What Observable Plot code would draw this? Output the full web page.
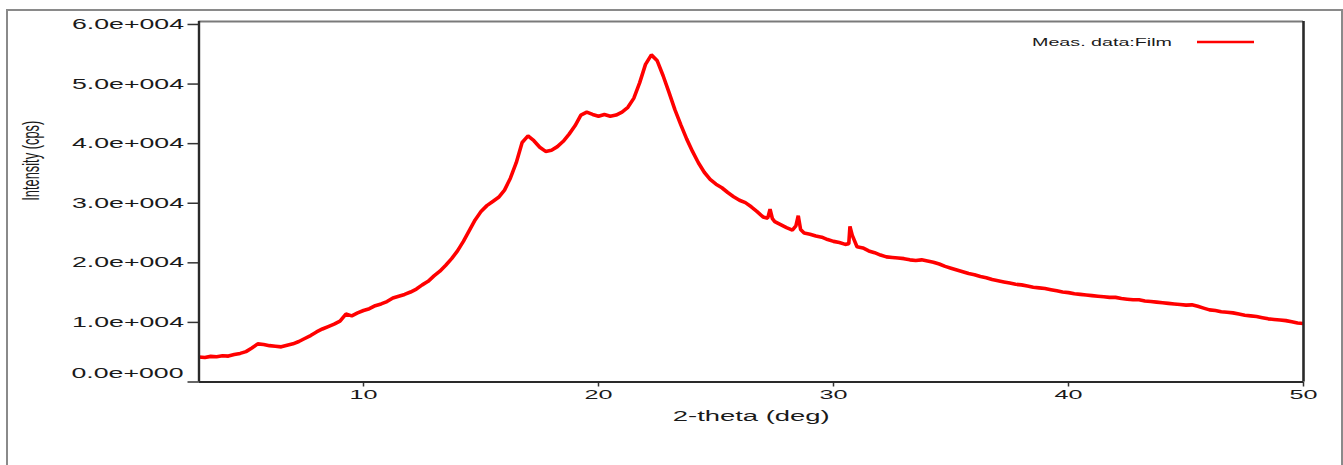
<!DOCTYPE html>
<html>
<head>
<meta charset="utf-8">
<script src="https://cdn.jsdelivr.net/npm/d3@7"></script>
<script src="https://cdn.jsdelivr.net/npm/@observablehq/plot@0.6"></script>
<style>
  html, body { margin: 0; padding: 0; background: #fff; overflow: hidden; }
  #wrap { position: relative; width: 1343px; height: 465px; overflow: hidden; }
  #chart svg { display: block; }
  #outer { position: absolute; left: 6px; top: 9px; width: 1337px; height: 600px; border: 2px solid #8a8a8a; box-sizing: border-box; pointer-events: none; }
  #overlay { position: absolute; left: 0; top: 0; pointer-events: none; }
</style>
</head>
<body>
<div id="wrap">
  <div id="chart"></div>
  <div id="outer"></div>
  <svg id="overlay" width="1343" height="465"></svg>
</div>
<script>
// ---- data ----
const theta = [
  3.00,3.25,3.50,3.75,4.00,4.25,4.50,4.75,5.00,5.25,5.50,5.75,6.00,6.25,6.50,6.75,
  7.00,7.25,7.50,7.75,8.00,8.25,8.50,8.75,9.00,9.25,9.50,9.75,10.00,10.25,10.50,10.75,
  11.00,11.25,11.50,11.75,12.00,12.25,12.50,12.75,13.00,13.25,13.50,13.75,14.00,14.25,14.50,14.75,
  15.00,15.25,15.50,15.75,16.00,16.25,16.50,16.75,17.00,17.25,17.50,17.75,18.00,18.25,18.50,18.75,
  19.00,19.25,19.50,19.75,20.00,20.25,20.50,20.75,21.00,21.25,21.50,21.75,22.00,22.25,22.50,22.75,
  23.00,23.25,23.50,23.75,24.00,24.25,24.50,24.75,25.00,25.25,25.50,25.75,26.00,26.25,26.50,26.75,
  27.00,27.20,27.30,27.40,27.50,27.75,28.00,28.25,28.40,28.50,28.60,28.75,29.00,29.25,29.50,29.75,
  30.00,30.25,30.50,30.65,30.70,30.80,31.00,31.25,31.50,31.75,32.00,32.25,32.50,32.75,33.00,33.25,
  33.50,33.75,34.00,34.25,34.50,34.75,35.00,35.25,35.50,35.75,36.00,36.25,36.50,36.75,37.00,37.25,
  37.50,37.75,38.00,38.25,38.50,38.75,39.00,39.25,39.50,39.75,40.00,40.25,40.50,40.75,41.00,41.25,
  41.50,41.75,42.00,42.25,42.50,42.75,43.00,43.25,43.50,43.75,44.00,44.25,44.50,44.75,45.00,45.25,
  45.50,45.75,46.00,46.25,46.50,46.75,47.00,47.25,47.50,47.75,48.00,48.25,48.50,48.75,49.00,49.25,
  49.50,49.75,50.00
];
const intensity = [
  4200,4100,4300,4250,4400,4350,4600,4800,5100,5700,6400,6300,6100,6000,5900,6150,
  6400,6800,7300,7800,8400,8900,9300,9700,10200,11400,11100,11600,12000,12300,12800,13100,
  13500,14100,14400,14700,15100,15600,16300,16900,17800,18600,19600,20700,22000,23600,25400,27200,
  28600,29600,30300,31000,32200,34200,36800,40200,41300,40500,39400,38700,38900,39500,40400,41600,
  43000,44800,45300,44900,44600,44900,44600,44800,45300,46100,47600,50200,53300,54900,53900,51400,
  48600,45700,43200,40800,38700,36800,35200,34000,33200,32600,31800,31100,30500,30100,29400,28600,
  27700,27500,29000,27400,26900,26400,25900,25500,26200,27900,25600,25000,24800,24500,24300,23900,
  23600,23400,23100,23200,26100,24600,22700,22500,22000,21700,21300,21000,20900,20800,20700,20500,
  20400,20500,20300,20100,19800,19400,19100,18800,18500,18200,18000,17700,17500,17200,17000,16800,
  16600,16400,16300,16100,15900,15800,15700,15500,15300,15100,15000,14800,14700,14600,14500,14400,
  14300,14200,14200,14000,13900,13800,13800,13600,13500,13400,13300,13200,13100,13000,12900,12950,
  12700,12400,12100,12000,11800,11700,11600,11400,11200,11100,11000,10800,10600,10500,10400,10300,
  10100,9900,9800
];
const xDomain = [3, 50];
const yDomain = [0, 60500];
const xTicks = [10, 20, 30, 40, 50];
const yTicks = [0, 10000, 20000, 30000, 40000, 50000, 60000];
const xTitle = "2-theta (deg)";
const yTitle = "Intensity (cps)";
const seriesName = "Meas. data:Film";

const fmtY = d => d === 0 ? "0.0e+000" : (d / 10000).toFixed(1) + "e+004";
const rows = theta.map((t, i) => ({t, v: intensity[i]}));
const FONT = "'Liberation Sans', Arial, sans-serif";

const plot = Plot.plot({
  width: 1343,
  height: 465,
  marginLeft: 198.5,
  marginRight: 40,
  marginTop: 21,
  marginBottom: 83.5,
  style: {fontFamily: FONT, background: "transparent", color: "#1a1a1a"},
  x: {domain: xDomain, axis: null},
  y: {domain: yDomain, axis: null},
  marks: [
    Plot.axisY({ticks: yTicks, tickSize: 11, tickPadding: 4, tickFormat: d => d === 0 ? "" : fmtY(d),
      fontSize: 14, stroke: "#333", strokeWidth: 1.5, fill: "#1a1a1a", label: null}),
    Plot.text([0], {x: xDomain[0], y: d => d, text: fmtY, textAnchor: "end", dx: -15.5, dy: -8.5,
      fontSize: 14, fill: "#1a1a1a"}),
    Plot.axisX({ticks: xTicks, tickSize: 5, tickPadding: 3, tickFormat: d => String(d),
      fontSize: 13, stroke: "#333", strokeWidth: 1.5, fill: "#1a1a1a", label: null}),
    Plot.text([xTitle], {frameAnchor: "bottom", text: d => d, dy: 35, fontSize: 14, fill: "#1a1a1a", lineAnchor: "middle"}),
    Plot.text([yTitle], {frameAnchor: "left", text: d => d, rotate: -90, dx: -168, dy: -1, fontSize: 24, fill: "#1a1a1a", lineAnchor: "middle"}),
    Plot.line(rows, {x: "t", y: "v", stroke: "#ff0000", strokeWidth: 3.6, strokeLinejoin: "miter", clip: true}),
    Plot.ruleY([yDomain[1]], {stroke: "#7a7a7a", strokeWidth: 1.8}),
    Plot.ruleY([0], {stroke: "#2a2a2a", strokeWidth: 2}),
    Plot.ruleX([xDomain[0]], {stroke: "#2a2a2a", strokeWidth: 2.4}),
    Plot.ruleX([xDomain[1]], {stroke: "#2a2a2a", strokeWidth: 2.6})
  ]
});
document.getElementById("chart").appendChild(plot);

// the reference's lettering is horizontally stretched: reproduce with textLength
const xTickStrings = xTicks.map(String);
plot.querySelectorAll("text").forEach(t => {
  const s = t.textContent;
  let len = null;
  if (!s) return;
  if (/e\+00/.test(s)) len = 112;
  else if (xTickStrings.includes(s)) len = 28;
  else if (s === xTitle) len = 157;
  else if (s === yTitle) len = 80;
  if (len) {
    t.setAttribute("textLength", len);
    t.setAttribute("lengthAdjust", "spacingAndGlyphs");
  }
});

// legend (inside the plot frame, top right)
const ov = d3.select("#overlay");
ov.append("text").attr("x", 1032).attr("y", 46).attr("font-family", FONT).attr("font-size", 11)
  .attr("fill", "#1a1a1a").attr("textLength", 140).attr("lengthAdjust", "spacingAndGlyphs").text(seriesName);
ov.append("line").attr("x1", 1197).attr("x2", 1254).attr("y1", 42).attr("y2", 42)
  .attr("stroke", "#ff0000").attr("stroke-width", 2.4);
</script>
</body>
</html>
